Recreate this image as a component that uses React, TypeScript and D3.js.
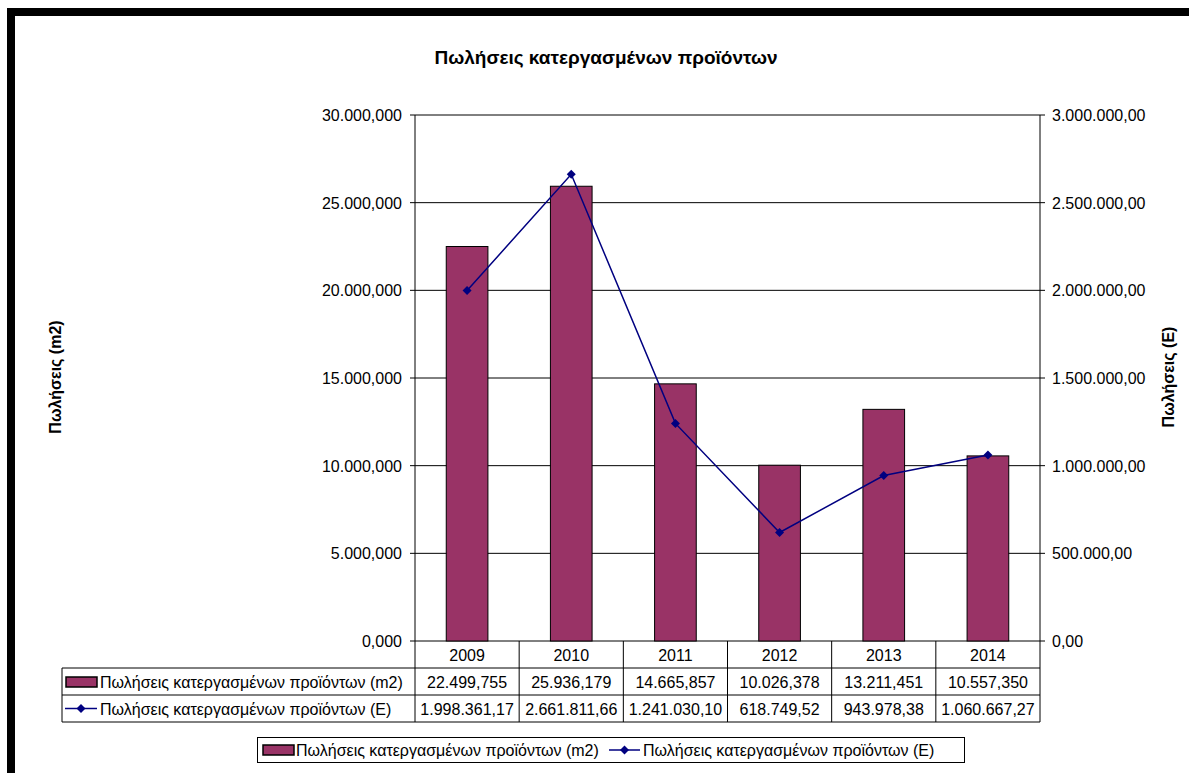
import React from 'react';
import * as d3 from 'd3';

const title = 'Πωλήσεις κατεργασμένων προϊόντων';
const seriesBarName = 'Πωλήσεις κατεργασμένων προϊόντων (m2)';
const seriesLineName = 'Πωλήσεις κατεργασμένων προϊόντων (E)';
const leftAxisTitle = 'Πωλήσεις (m2)';
const rightAxisTitle = 'Πωλήσεις (E)';
const years = ['2009', '2010', '2011', '2012', '2013', '2014'];
const salesM2 = [22499.755, 25936.179, 14665.857, 10026.378, 13211.451, 10557.35];
const salesEuro = [1998361.17, 2661811.66, 1241030.1, 618749.52, 943978.38, 1060667.27];
const leftTicks = [0, 5000, 10000, 15000, 20000, 25000, 30000];
const rightTicks = [0, 500000, 1000000, 1500000, 2000000, 2500000, 3000000];

const loc = d3.formatLocale({ decimal: ',', thousands: '.', grouping: [3], currency: ['', ''] });
const fmt3 = loc.format(',.3f');
const fmt2 = loc.format(',.2f');

const FONT = 'Arial, "Liberation Sans", sans-serif';
const BAR = '#993366';
const LINE = '#000080';
const FS = 16;

export default function App() {
  const left = 415, right = 1040, top = 115, bottom = 641;
  const x = d3.scaleBand().domain(years).range([left, right]).paddingInner(0.6).paddingOuter(0.3);
  const xCell = d3.scaleBand().domain(years).range([left, right]);
  const yL = d3.scaleLinear().domain([0, 30000]).range([bottom, top]);
  const yR = d3.scaleLinear().domain([0, 3000000]).range([bottom, top]);
  const line = d3.line<number>().x((_, i) => (xCell(years[i]) as number) + xCell.bandwidth() / 2).y(d => yR(d));

  const tableLeft = 62;
  const rowH = 27;
  const r0 = bottom, r1 = bottom + rowH, r2 = bottom + 2 * rowH, r3 = bottom + 3 * rowH;
  const diamond = (cx: number, cy: number, s = 4.5) => `M${cx},${cy - s}L${cx + s},${cy}L${cx},${cy + s}L${cx - s},${cy}Z`;

  return (
    <svg width={1189} height={773} style={{ position: 'absolute', left: 0, top: 0, background: '#fff' }} fontFamily={FONT}>
      <rect x={0} y={0} width={1189} height={773} fill="#fff" />
      {/* black outer frame */}
      <rect x={7} y={8} width={1189} height={8} fill="#000" />
      <rect x={7} y={8} width={8} height={773} fill="#000" />

      <text x={606} y={64} textAnchor="middle" fontSize={19} fontWeight="bold">{title}</text>

      {/* gridlines */}
      {leftTicks.map(t => (
        <line key={'g' + t} x1={left} x2={right} y1={yL(t)} y2={yL(t)} stroke="#000" strokeWidth={1} />
      ))}
      {/* bars */}
      {salesM2.map((v, i) => (
        <rect key={'b' + i} x={x(years[i])} y={yL(v)} width={x.bandwidth()} height={bottom - yL(v)} fill={BAR} stroke="#000" strokeWidth={1} />
      ))}
      {/* axes */}
      <line x1={left} x2={left} y1={top} y2={bottom} stroke="#000" />
      <line x1={right} x2={right} y1={top} y2={bottom} stroke="#000" />
      {leftTicks.map(t => (
        <g key={'lt' + t}>
          <line x1={left - 5} x2={left} y1={yL(t)} y2={yL(t)} stroke="#000" />
          <text x={402} y={yL(t) + 6} textAnchor="end" fontSize={FS}>{fmt3(t)}</text>
        </g>
      ))}
      {rightTicks.map(t => (
        <g key={'rt' + t}>
          <line x1={right} x2={right + 5} y1={yR(t)} y2={yR(t)} stroke="#000" />
          <text x={1052} y={yR(t) + 6} textAnchor="start" fontSize={FS}>{fmt2(t)}</text>
        </g>
      ))}
      {/* line series */}
      <path d={line(salesEuro) || ''} fill="none" stroke={LINE} strokeWidth={1.5} />
      {salesEuro.map((v, i) => (
        <path key={'m' + i} d={diamond((xCell(years[i]) as number) + xCell.bandwidth() / 2, yR(v))} fill={LINE} />
      ))}

      {/* axis titles */}
      <text transform={`translate(61,377) rotate(-90)`} textAnchor="middle" fontSize={FS} fontWeight="bold">{leftAxisTitle}</text>
      <text transform={`translate(1174,377) rotate(-90)`} textAnchor="middle" fontSize={FS} fontWeight="bold">{rightAxisTitle}</text>

      {/* data table */}
      <g stroke="#000" strokeWidth={1}>
        <line x1={tableLeft} x2={right} y1={r1} y2={r1} />
        <line x1={tableLeft} x2={right} y1={r2} y2={r2} />
        <line x1={tableLeft} x2={right} y1={r3} y2={r3} />
        <line x1={tableLeft} x2={tableLeft} y1={r1} y2={r3} />
        {years.map(y => (
          <line key={'c' + y} x1={xCell(y)} x2={xCell(y)} y1={r0} y2={r3} />
        ))}
        <line x1={right} x2={right} y1={r0} y2={r3} />
      </g>
      {years.map((y, i) => {
        const cx = (xCell(y) as number) + xCell.bandwidth() / 2;
        return (
          <g key={'t' + y} fontSize={FS} textAnchor="middle">
            <text x={cx} y={r0 + 20}>{y}</text>
            <text x={cx} y={r1 + 20}>{fmt3(salesM2[i])}</text>
            <text x={cx} y={r2 + 20}>{fmt2(salesEuro[i])}</text>
          </g>
        );
      })}
      <rect x={66} y={r1 + 9} width={31} height={10} fill={BAR} stroke="#000" strokeWidth={1.5} />
      <text x={100} y={r1 + 20} fontSize={FS}>{seriesBarName}</text>
      <line x1={65} x2={97} y1={r2 + 13.5} y2={r2 + 13.5} stroke={LINE} strokeWidth={1.5} />
      <path d={diamond(81, r2 + 13.5)} fill={LINE} />
      <text x={100} y={r2 + 20} fontSize={FS}>{seriesLineName}</text>

      {/* legend */}
      <rect x={257.5} y={737.5} width={707} height={25} fill="#fff" stroke="#000" strokeWidth={1} />
      <rect x={263} y={745} width={31} height={10} fill={BAR} stroke="#000" strokeWidth={1.5} />
      <text x={296} y={756} fontSize={FS}>{seriesBarName}</text>
      <line x1={609} x2={640} y1={750} y2={750} stroke={LINE} strokeWidth={1.5} />
      <path d={diamond(624.5, 750)} fill={LINE} />
      <text x={643} y={756} fontSize={FS}>{seriesLineName}</text>
    </svg>
  );
}
